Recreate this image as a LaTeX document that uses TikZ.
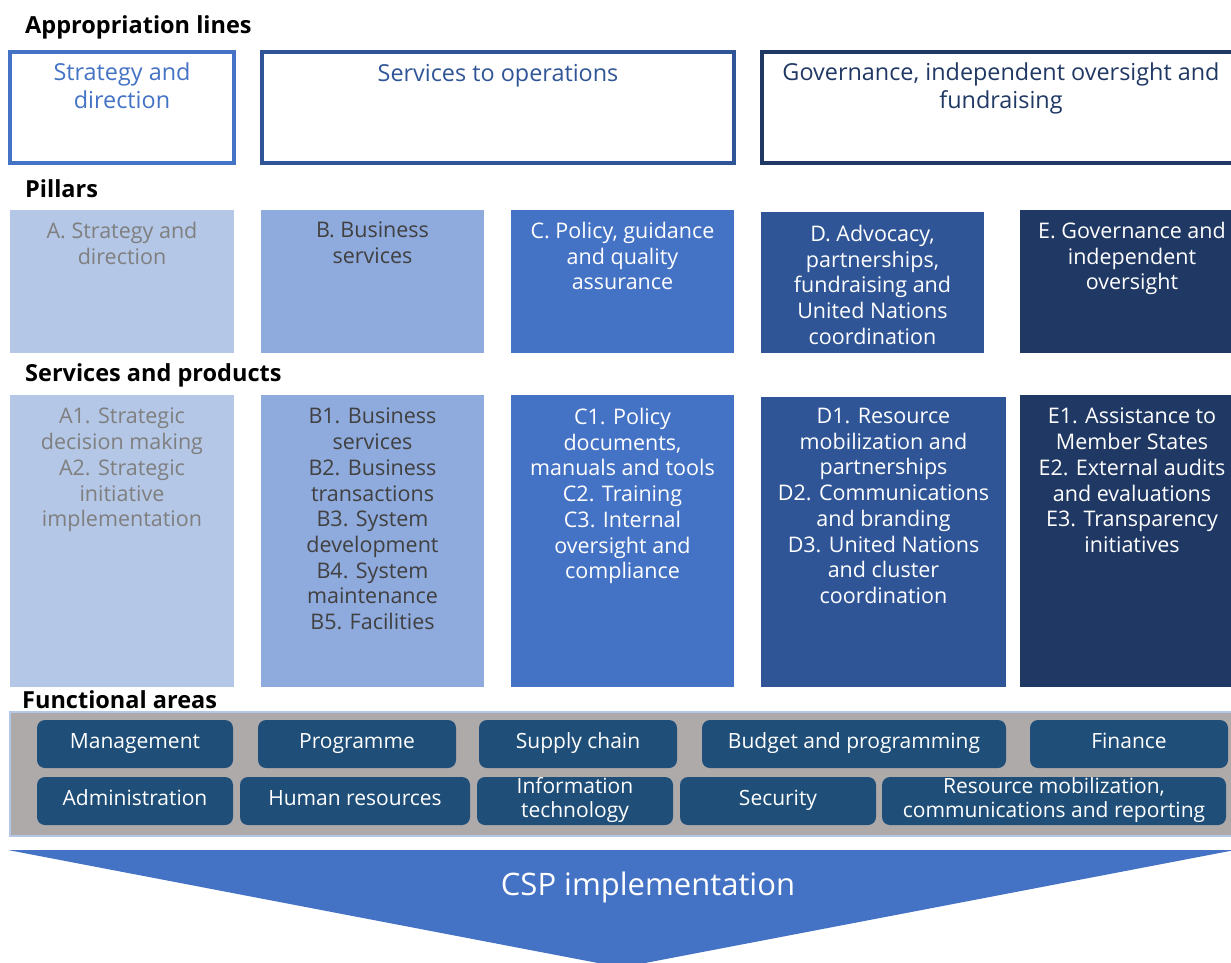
\documentclass[tikz,border=0pt]{standalone}
\usepackage{fontspec}
\setmainfont{Open Sans}
\definecolor{cA}{HTML}{B4C7E7}
\definecolor{cB}{HTML}{8FAADC}
\definecolor{cC}{HTML}{4472C4}
\definecolor{cD}{HTML}{2F5597}
\definecolor{cE}{HTML}{203864}
\definecolor{faBlue}{HTML}{1F4E79}
\definecolor{bandGray}{HTML}{AEAAAA}
\definecolor{txtGray}{HTML}{7F7F7F}
\definecolor{txtDark}{HTML}{404040}
\begin{document}
\begin{tikzpicture}[x=1pt,y=-1pt,
  hdr/.style={font=\bfseries\fontsize{23.5}{27}\selectfont, anchor=base west, inner sep=0pt},
  apbox/.style={draw, line width=4pt, inner sep=0pt},
  apText/.style={align=center, anchor=north, inner sep=0pt, font=\fontsize{23.4}{27.5}\selectfont,
     execute at begin node={\rule{0pt}{18pt}}},
  colbox/.style={inner sep=0pt, draw=none},
  bodyText/.style={align=center, anchor=north, inner sep=0pt, font=\fontsize{21.5}{25.7}\selectfont,
     execute at begin node={\rule{0pt}{17pt}}},
  fa/.style={rounded corners=8pt, fill=faBlue, text=white, inner sep=0pt, align=center,
     minimum height=48pt, font=\fontsize{21}{24}\selectfont,
     execute at begin node={\strut}, execute at end node={\strut}}
]
\useasboundingbox (0,0) rectangle (1231,962);
\clip (0,0) rectangle (1231,962);

% headers
\node[hdr] (h1) at (25,33) {Appropriation lines};
\node[hdr] (h2) at (25,197) {Pillars};
\node[hdr] (h3) at (25,381) {Services and products};
\node[hdr] (h4) at (22,708) {Functional areas};

% appropriation lines
\node[apbox, draw=cC, minimum width=224pt, minimum height=111pt] (ap1) at (122,107.5) {};
\node[apbox, draw=cD, minimum width=472pt, minimum height=111pt] (ap2) at (498,107.5) {};
\node[apbox, draw=cE, minimum width=480pt, minimum height=111pt] (ap3) at (1002,107.5) {};
\node[apText, text=cC] (ap1t) at (122,63) {Strategy and\\direction};
\node[apText, text=cD] (ap2t) at (498,63) {Services to operations};
\node[apText, text=cE] (ap3t) at (1001,63) {Governance, independent oversight and\\fundraising};

% pillars
\node[colbox, fill=cA, minimum width=224pt, minimum height=143pt] (pA) at (122,281.5) {};
\node[colbox, fill=cB, minimum width=223pt, minimum height=143pt] (pB) at (372.5,281.5) {};
\node[colbox, fill=cC, minimum width=223pt, minimum height=143pt] (pC) at (622.5,281.5) {};
\node[colbox, fill=cD, minimum width=223pt, minimum height=141pt] (pD) at (872.5,282.5) {};
\node[colbox, fill=cE, minimum width=224pt, minimum height=143pt] (pE) at (1132,281.5) {};
\node[bodyText, text=txtGray] (pAt) at (122,222) {A. Strategy and\\direction};
\node[bodyText, text=txtDark] (pBt) at (372.5,222) {B. Business\\services};
\node[bodyText, text=white] (pCt) at (622.5,222) {C. Policy, guidance\\and quality\\assurance};
\node[bodyText, text=white] (pDt) at (872.5,225) {D. Advocacy,\\partnerships,\\fundraising and\\United Nations\\coordination};
\node[bodyText, text=white] (pEt) at (1132,222) {E. Governance and\\independent\\oversight};

% services and products
\node[colbox, fill=cA, minimum width=224pt, minimum height=292pt] (sA) at (122,541) {};
\node[colbox, fill=cB, minimum width=223pt, minimum height=292pt] (sB) at (372.5,541) {};
\node[colbox, fill=cC, minimum width=223pt, minimum height=292pt] (sC) at (622.5,541) {};
\node[colbox, fill=cD, minimum width=245pt, minimum height=290pt] (sD) at (883.5,542) {};
\node[colbox, fill=cE, minimum width=228pt, minimum height=292pt] (sE) at (1134,541) {};
\node[bodyText, text=txtGray] (sAt) at (122,408) {A1. Strategic\\decision making\\A2. Strategic\\initiative\\implementation};
\node[bodyText, text=txtDark] (sBt) at (372.5,408) {B1. Business\\services\\B2. Business\\transactions\\B3. System\\development\\B4. System\\maintenance\\B5. Facilities};
\node[bodyText, text=white] (sCt) at (622.5,408) {C1. Policy\\documents,\\manuals and tools\\C2. Training\\C3. Internal\\oversight and\\compliance};
\node[bodyText, text=white] (sDt) at (883.5,408) {D1. Resource\\mobilization and\\partnerships\\D2. Communications\\and branding\\D3. United Nations\\and cluster\\coordination};
\node[bodyText, text=white] (sEt) at (1132,408) {E1. Assistance to\\Member States\\E2. External audits\\and evaluations\\E3. Transparency\\initiatives};

% functional areas band
\node[draw=cA, line width=1.5pt, fill=bandGray, inner sep=0pt, minimum width=1232pt, minimum height=124pt] (band) at (626,774) {};
\node[fa, minimum width=196pt] (fMan) at (135,744) {Management};
\node[fa, minimum width=198pt] (fProg) at (357,744) {Programme};
\node[fa, minimum width=198pt] (fSup) at (578,744) {Supply chain};
\node[fa, minimum width=304pt] (fBud) at (854,744) {Budget and programming};
\node[fa, minimum width=198pt] (fFin) at (1129,744) {Finance};
\node[fa, minimum width=196pt] (fAdm) at (135,801) {Administration};
\node[fa, minimum width=230pt] (fHR) at (355,801) {Human resources};
\node[fa, minimum width=196pt] (fIT) at (575,801) {Information\\technology};
\node[fa, minimum width=196pt] (fSec) at (778,801) {Security};
\node[fa, minimum width=344pt] (fRes) at (1054,801) {Resource mobilization,\\communications and reporting};

% CSP implementation arrow
\fill[cC] (8,850) -- (1235,850) -- (621.5,967.5) -- cycle;
\node[text=white, font=\fontsize{31}{36}\selectfont, inner sep=0pt] (csp) at (648,887) {CSP implementation};
\end{tikzpicture}
\end{document}
